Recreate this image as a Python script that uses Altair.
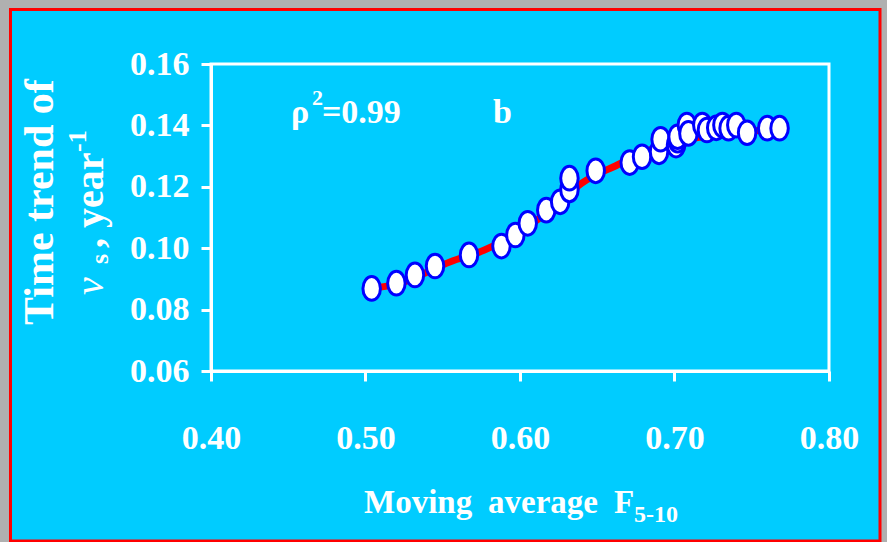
import altair as alt
import pandas as pd

# ---- data ----
f_avg = [0.504, 0.520, 0.532, 0.545, 0.567, 0.588, 0.597, 0.605, 0.617, 0.626,
         0.632, 0.632, 0.649, 0.671, 0.679, 0.690, 0.691, 0.701, 0.702, 0.702,
         0.708, 0.709, 0.718, 0.721, 0.727, 0.731, 0.735, 0.740, 0.747, 0.760, 0.768]
nu_trend = [0.0869, 0.0886, 0.0913, 0.0942, 0.0978, 0.1007, 0.1043, 0.1081, 0.1124, 0.1151,
            0.1190, 0.1228, 0.1252, 0.1279, 0.1298, 0.1314, 0.1355, 0.1336, 0.1352, 0.1363,
            0.1401, 0.1374, 0.1401, 0.1385, 0.1392, 0.1401, 0.1391, 0.1401, 0.1376, 0.1391, 0.1391]

fit_f = [0.503, 0.520, 0.555, 0.577, 0.600, 0.620, 0.640, 0.663, 0.684, 0.700, 0.717, 0.740, 0.767]
fit_nu = [0.0869, 0.0882, 0.0956, 0.0994, 0.1055, 0.1125, 0.1212, 0.1271, 0.1320, 0.1345, 0.1362, 0.1378, 0.1386]

x_ticks = [0.40, 0.50, 0.60, 0.70, 0.80]
y_ticks = [0.06, 0.08, 0.10, 0.12, 0.14, 0.16]

# ---- layout ----
L, T = 211, 64
W, H = 618, 307
R, B = 887 - L - W, 542 - T - H

FONT = "Liberation Serif"
CYAN = "#00ccff"

pts = pd.DataFrame({"F": f_avg, "nu": nu_trend})
fit = pd.DataFrame({"F": fit_f, "nu": fit_nu})
one = pd.DataFrame({"k": [0]})

xscale = alt.Scale(domain=[0.4, 0.8], nice=False, zero=False)
yscale = alt.Scale(domain=[0.06, 0.16], nice=False, zero=False)

common_axis = dict(domainColor="white", domainWidth=3, tickColor="white", tickWidth=3,
                   tickSize=10, labelColor="white", labelFont=FONT, labelFontWeight="bold",
                   labelFontSize=34, grid=False, zindex=1, title=None,
                   labelFlush=False, labelOverlap=False, format=".2f")
xaxis = alt.Axis(values=x_ticks, labelPadding=40, **common_axis)
yaxis = alt.Axis(values=y_ticks, labelPadding=12, **common_axis)


def px(v):
    return alt.value(v - L)


def py(v):
    return alt.value(v - T)


bg = alt.Chart(one).mark_rect(fill=CYAN, stroke="#ff0000", strokeWidth=3).encode(
    x=px(10.5), x2=px(880), y=py(9.5), y2=py(541))

frame = alt.Chart(one).mark_rect(fill=None, stroke="white", strokeWidth=3).encode(
    x=alt.value(0), x2=alt.value(W), y=alt.value(0), y2=alt.value(H))

line = alt.Chart(fit).mark_line(color="#ff0000", strokeWidth=7, interpolate="monotone").encode(
    x=alt.X("F:Q", scale=xscale, axis=xaxis),
    y=alt.Y("nu:Q", scale=yscale, axis=yaxis))

ellipse = "M -0.74 0 A 0.74 1 0 1 0 0.74 0 A 0.74 1 0 1 0 -0.74 0 Z"
points = alt.Chart(pts).mark_point(shape=ellipse, size=560, fill="white", stroke="#0000ff",
                                   strokeWidth=3, opacity=1, fillOpacity=1).encode(
    x=alt.X("F:Q", scale=xscale, axis=xaxis),
    y=alt.Y("nu:Q", scale=yscale, axis=yaxis))


def txt(s, x, y, size, angle=0, style="normal", weight="bold"):
    return alt.Chart(one).mark_text(text=s, font=FONT, fontSize=size, fontWeight=weight,
                                    fontStyle=style, color="white", align="left",
                                    baseline="alphabetic", angle=angle).encode(
        x=px(x), y=py(y))


texts = [
    # x-axis title
    txt("Moving", 364, 513, 33),
    txt("average", 488, 513, 33),
    txt("F", 614, 513, 33),
    txt("5-10", 634, 522, 24),
    # y-axis title (rotated)
    txt("Time trend of", 53, 325, 42, angle=270),
    txt("\u03bd", 103, 295, 40, angle=270, style="italic", weight="normal"),
    txt("s", 108, 264, 26, angle=270),
    txt(", year", 103, 248, 40, angle=270),
    txt("-1", 86, 152, 26, angle=270),
    # annotations
    txt("\u03c1", 291, 123, 34),
    txt("2", 312, 105, 22),
    txt("=0.99", 322, 123, 34),
    txt("b", 493, 123, 34),
]

chart = alt.layer(bg, frame, line, points, *texts).properties(
    width=W, height=H,
    padding={"left": L, "top": T, "right": R, "bottom": B},
    autosize=alt.AutoSizeParams(type="none"),
    background="#b0b0b0",
).configure_view(strokeWidth=0)

chart.save("out.html", embed_options={"renderer": "svg", "actions": False})
